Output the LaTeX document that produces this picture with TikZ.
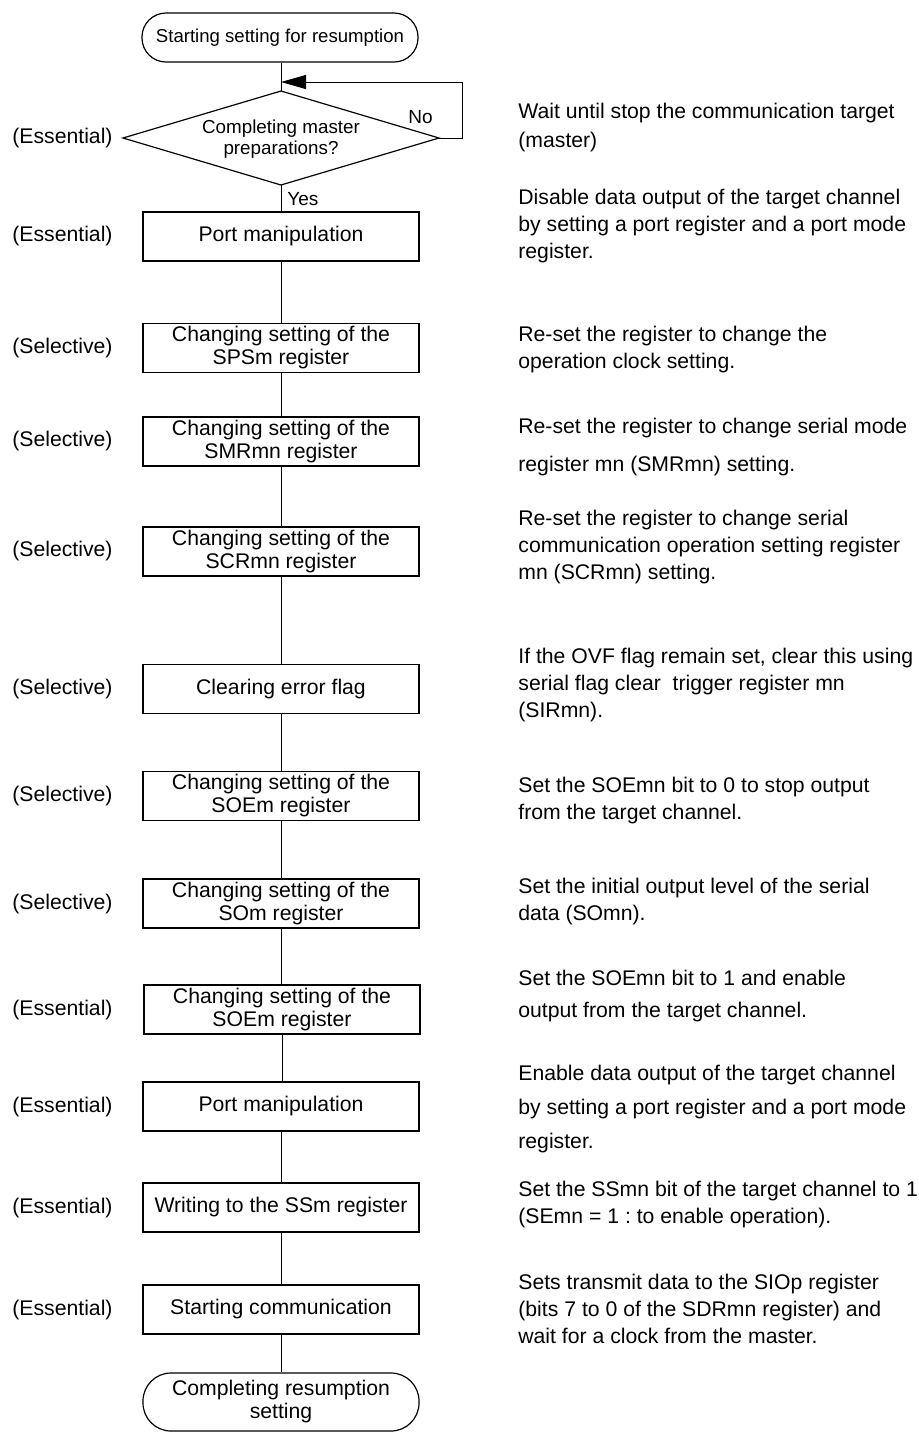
\documentclass[tikz,border=0pt]{standalone}
\usepackage{fontspec}
\setmainfont{Liberation Sans}
\usetikzlibrary{arrows.meta}
\frenchspacing

\begin{document}
\begin{tikzpicture}[x=0.5pt,y=-0.5pt,
  every node/.style={font=\fontsize{10.6}{11.5}\selectfont},
  stepbox/.style={draw,line width=0.6pt,minimum width=138pt,minimum height=24.5pt,inner sep=0pt,align=center},
  term/.style={draw,line width=0.6pt,rounded corners=12pt,minimum width=138pt,minimum height=24.5pt,inner sep=0pt,align=center},
  asktext/.style={inner sep=0pt,align=center,font=\fontsize{9.4}{10.5}\selectfont},
  kind/.style={anchor=west,inner sep=0pt},
  note/.style={anchor=west,inner sep=0pt,align=left,font=\fontsize{10.6}{13.5}\selectfont\frenchspacing},
  small/.style={inner sep=0pt,font=\fontsize{9.5}{11}\selectfont},
  link/.style={line width=0.5pt}]
\useasboundingbox (0,0) rectangle (919,1432);

% flow column
\node[term,font=\fontsize{9.3}{11}\selectfont] (start) at (280,37.5) {Starting setting for resumption};

% decision
\coordinate (dia-n) at (281,91);
\coordinate (dia-s) at (281,185);
\coordinate (dia-w) at (123,138);
\coordinate (dia-e) at (439,138);
\draw[line width=0.6pt] (dia-w) -- (dia-n) -- (dia-e) -- (dia-s) -- cycle;
\node[asktext] (dia) at (281,139) {Completing master\\preparations?};

\node[stepbox] (port1) at (281,236.5) {Port manipulation};
\node[stepbox] (spsm) at (281,348) {Changing setting of the\\SPSm register};
\node[stepbox] (smr) at (281,441.5) {Changing setting of the\\SMRmn register};
\node[stepbox] (scr) at (281,551.5) {Changing setting of the\\SCRmn register};
\node[stepbox] (clr) at (281,689) {Clearing error flag};
\node[stepbox] (soe1) at (281,796) {Changing setting of the\\SOEm register};
\node[stepbox] (som) at (281,903.5) {Changing setting of the\\SOm register};
\node[stepbox] (soe2) at (282,1009.5) {Changing setting of the\\SOEm register};
\node[stepbox] (port2) at (281,1106.5) {Port manipulation};
\node[stepbox] (ssm) at (281,1207.5) {Writing to the SSm register};
\node[stepbox] (comm) at (281,1309.5) {Starting communication};
\node[term,rounded corners=14pt,minimum height=29pt] (fin) at (281,1402) {Completing resumption\\setting};

% connectors
\coordinate (merge) at (281,82);
\coordinate (loop) at (462,82);
\draw[link] (start.south -| dia-n) -- (dia-n);
\draw[link,-{Triangle[length=12.5pt,width=7pt]}] (dia-e) -| (loop) -- (merge);
\draw[link] (dia-s) -- (port1);
\draw[link] (port1) -- (spsm);
\draw[link] (spsm) -- (smr);
\draw[link] (smr) -- (scr);
\draw[link] (scr) -- (clr);
\draw[link] (clr) -- (soe1);
\draw[link] (soe1) -- (som);
\draw[link] (som) -- (soe2.north -| som);
\draw[link] (soe2) -- (soe2.south |- port2.north);
\draw[link] (port2) -- (ssm);
\draw[link] (ssm) -- (comm);
\draw[link] (comm) -- (fin);

\node[small,anchor=west] (no) at (408,117) {No};
\node[small,anchor=west] (yes) at (287,199) {Yes};

% left column
\node[kind] (k0) at (12,138) {(Essential)};
\node[kind] (k1) at (12,236.5) {(Essential)};
\node[kind] (k2) at (12,348) {(Selective)};
\node[kind] (k3) at (12,441.5) {(Selective)};
\node[kind] (k4) at (12,551.5) {(Selective)};
\node[kind] (k5) at (12,689) {(Selective)};
\node[kind] (k6) at (12,796) {(Selective)};
\node[kind] (k7) at (12,903.5) {(Selective)};
\node[kind] (k8) at (12,1009.5) {(Essential)};
\node[kind] (k9) at (12,1106.5) {(Essential)};
\node[kind] (k10) at (12,1207.5) {(Essential)};
\node[kind] (k11) at (12,1309.5) {(Essential)};

% right column
\node[note] (d0) at (518,127.5) {Wait until stop the communication target\\[1pt](master)};
\node[note] (d1) at (518,226.5) {Disable data output of the target channel\\by setting a port register and a port mode\\register.};
\node[note] (d2) at (518,349.5) {Re-set the register to change the\\operation clock setting.};
\node[note] (d3) at (518,447) {Re-set the register to change serial mode\\[5.5pt]register mn (SMRmn) setting.};
\node[note] (d4) at (518,547.5) {Re-set the register to change serial\\communication operation setting register\\mn (SCRmn) setting.};
\node[note] (d5) at (518,685) {If the OVF flag remain set, clear this using\\serial flag clear\ \ trigger register mn\\(SIRmn).};
\node[note] (d6) at (518,800.5) {Set the SOEmn bit to 0 to stop output\\from the target channel.};
\node[note] (d7) at (518,901.5) {Set the initial output level of the serial\\data (SOmn).};
\node[note] (d8) at (518,996) {Set the SOEmn bit to 1 and enable\\[2.5pt]output from the target channel.};
\node[note] (d9) at (518,1109) {Enable data output of the target channel\\[3.5pt]by setting a port register and a port mode\\[3.5pt]register.};
\node[note] (d10) at (518,1204.5) {Set the SSmn bit of the target channel to 1\\(SEmn = 1 : to enable operation).};
\node[note] (d11) at (518,1308.5) {Sets transmit data to the SIOp register\\(bits 7 to 0 of the SDRmn register) and\\wait for a clock from the master.};
\end{tikzpicture}
\end{document}
